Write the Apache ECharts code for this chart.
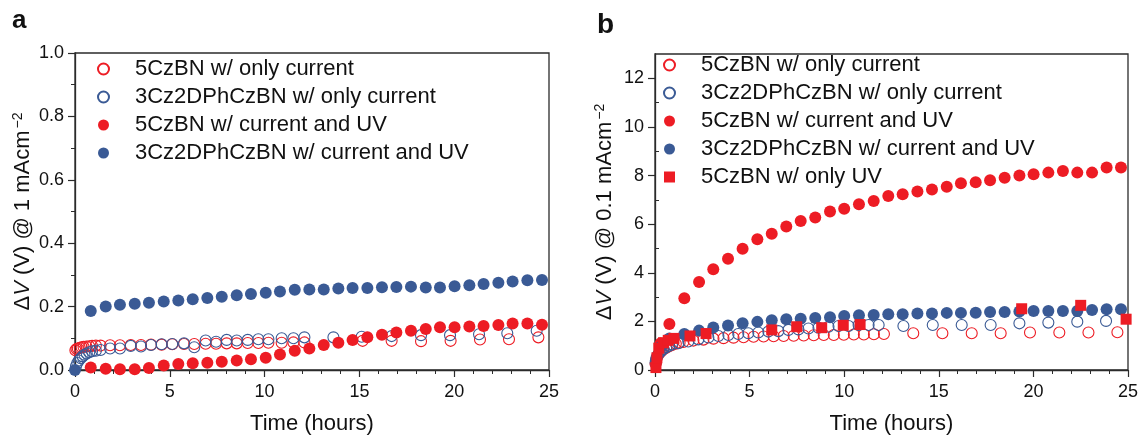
<!DOCTYPE html>
<html>
<head>
<meta charset="utf-8">
<script src="https://cdn.jsdelivr.net/npm/echarts@6/dist/echarts.min.js"></script>
<style>html,body{margin:0;padding:0;background:#fff;}#c{width:1146px;height:441px;}</style>
</head>
<body>
<div id="c"></div>
<script>
// ---------- Panel a data ----------
const A_T_OPEN_RED = [0.02,0.08,0.15,0.25,0.35,0.45,0.6,0.75,0.9,1.1,1.35,1.85,2.37,2.94,3.48,4.01,4.57,5.13,5.75,6.29,6.89,7.44,8.0,8.53,9.11,9.67,10.2,10.9,11.52,12.1,15.17,16.70,18.25,19.81,21.36,22.89,24.44];
const A_RED_OPEN = [0.062,0.066,0.068,0.07,0.072,0.073,0.074,0.075,0.076,0.077,0.077,0.078,0.078,0.079,0.079,0.08,0.08,0.081,0.082,0.082,0.083,0.083,0.084,0.084,0.085,0.085,0.086,0.086,0.087,0.087,0.092,0.092,0.091,0.092,0.096,0.097,0.103];
const A_T_OPEN_BLUE = [0.05,0.12,0.2,0.3,0.4,0.5,0.62,0.75,0.9,1.1,1.35,1.85,2.37,2.94,3.48,4.01,4.57,5.13,5.75,6.29,6.89,7.44,8.0,8.53,9.11,9.67,10.2,10.9,11.52,12.1,13.63,15.12,16.70,18.25,19.78,21.31,22.80,24.35];
const A_BLUE_OPEN = [0.012,0.022,0.03,0.037,0.043,0.048,0.052,0.056,0.059,0.061,0.063,0.068,0.068,0.076,0.074,0.079,0.081,0.082,0.084,0.072,0.093,0.089,0.095,0.093,0.095,0.097,0.097,0.100,0.100,0.103,0.103,0.105,0.107,0.110,0.110,0.113,0.116,0.124];
const A_T_RED_UV = [0.83,1.62,2.37,3.15,3.90,4.68,5.45,6.21,6.98,7.74,8.53,9.28,10.06,10.81,11.59,12.36,13.12,13.89,14.64,15.42,16.19,16.95,17.72,18.50,19.25,20.02,20.80,21.55,22.33,23.08,23.86,24.63];
const A_RED_UV = [0.008,0.004,0.002,0.002,0.006,0.014,0.019,0.021,0.023,0.026,0.030,0.034,0.039,0.049,0.061,0.068,0.079,0.086,0.095,0.103,0.111,0.118,0.124,0.129,0.135,0.135,0.137,0.139,0.142,0.147,0.147,0.143];
const A_T_BLUE_UV = [0,0.83,1.62,2.37,3.15,3.90,4.68,5.45,6.21,6.98,7.74,8.53,9.28,10.06,10.81,11.59,12.36,13.12,13.89,14.64,15.42,16.19,16.95,17.72,18.50,19.25,20.02,20.80,21.55,22.33,23.08,23.86,24.63];
const A_BLUE_UV = [0,0.186,0.200,0.206,0.209,0.212,0.216,0.219,0.223,0.227,0.231,0.236,0.240,0.244,0.248,0.253,0.254,0.254,0.257,0.259,0.259,0.261,0.262,0.263,0.260,0.260,0.264,0.267,0.271,0.275,0.279,0.283,0.284];

// ---------- Panel b data ----------
const B_T_OPEN_RED = [0.03,0.08,0.15,0.25,0.35,0.45,0.6,0.75,0.9,1.1,1.3,1.5,2.03,2.56,3.09,3.62,4.15,4.68,5.21,5.74,6.27,6.80,7.33,7.86,8.39,8.92,9.45,9.98,10.51,11.04,11.57,12.10,13.65,15.19,16.74,18.27,19.82,21.37,22.91,24.44];
const B_RED_OPEN = [0.25,0.45,0.6,0.7,0.78,0.85,0.92,0.98,1.03,1.08,1.12,1.15,1.21,1.25,1.29,1.31,1.33,1.35,1.37,1.38,1.39,1.40,1.41,1.42,1.43,1.44,1.44,1.45,1.46,1.46,1.47,1.48,1.51,1.51,1.51,1.51,1.54,1.54,1.54,1.55];
const B_T_OPEN_BLUE = [0.03,0.08,0.15,0.25,0.35,0.45,0.6,0.75,0.9,1.23,1.76,2.29,2.82,3.35,3.88,4.40,4.93,5.46,5.99,6.52,7.05,7.58,8.11,8.64,9.17,9.70,10.23,10.76,11.29,11.82,13.13,14.68,16.21,17.74,19.26,20.79,22.32,23.84];
const B_BLUE_OPEN = [0.3,0.5,0.62,0.72,0.8,0.87,0.94,1.0,1.05,1.10,1.17,1.26,1.34,1.40,1.44,1.48,1.51,1.54,1.58,1.60,1.65,1.67,1.71,1.74,1.78,1.81,1.81,1.85,1.85,1.85,1.81,1.85,1.85,1.85,1.92,1.95,1.99,2.02];
const B_T_RED_UV = [0.05,0.3,0.76,1.55,2.33,3.08,3.86,4.63,5.41,6.17,6.94,7.70,8.47,9.25,10.0,10.78,11.56,12.33,13.09,13.87,14.64,15.42,16.17,16.95,17.71,18.48,19.26,20.01,20.79,21.56,22.32,23.10,23.87,24.63];
const B_RED_UV = [0.3,1.1,1.89,2.95,3.62,4.14,4.58,4.99,5.38,5.61,5.90,6.13,6.27,6.52,6.63,6.82,6.95,7.16,7.23,7.34,7.43,7.54,7.68,7.72,7.81,7.91,8.00,8.05,8.12,8.19,8.12,8.12,8.33,8.33];
const B_T_BLUE_UV = [0.05,0.3,0.76,1.55,2.33,3.08,3.86,4.63,5.41,6.17,6.94,7.70,8.47,9.25,10.0,10.78,11.56,12.33,13.09,13.87,14.64,15.42,16.17,16.95,17.71,18.48,19.26,20.01,20.79,21.56,22.32,23.10,23.87,24.63];
const B_BLUE_UV = [0.4,0.95,1.30,1.48,1.62,1.75,1.83,1.92,1.98,2.05,2.09,2.11,2.14,2.17,2.22,2.25,2.26,2.29,2.29,2.32,2.32,2.35,2.35,2.36,2.39,2.39,2.41,2.43,2.43,2.43,2.43,2.47,2.50,2.50];
const B_T_ONLY_UV = [0.05,0.1,0.2,0.45,0.7,1.0,1.85,2.7,6.17,7.49,8.81,9.95,10.84,19.38,22.5,24.9];
const B_ONLY_UV = [0.1,0.5,0.9,1.12,1.22,1.3,1.4,1.5,1.65,1.78,1.74,1.84,1.87,2.52,2.66,2.09];

// ---------- labels ----------
const NAMES = ['5CzBN w/ only current','3Cz2DPhCzBN w/ only current','5CzBN w/ current and UV','3Cz2DPhCzBN w/ current and UV','5CzBN w/ only UV'];
const X_TITLE = 'Time (hours)';
const Y_TITLE_A = 'Δ{i|V} (V) @ 1 mAcm{sup|−2}';
const Y_TITLE_B = 'Δ{i|V} (V) @ 0.1 mAcm{sup|−2}';
const Y_TICKS_B = [0,2,4,6,8,10,12];
const Y_MINOR_B = [1,3,5,7,9,11];

const zip = (t, v) => t.map((x, i) => [x, v[i]]);
const RED = '#ed1c24', BLUE = '#3a5a95';
const FONT = 'Liberation Sans, Arial, Helvetica, sans-serif';
const AX = '#2b2b2b';

function xAxis(gi) {
  return {
    type: 'value', gridIndex: gi, min: 0, max: 25, interval: 5,
    name: X_TITLE, nameLocation: 'middle', nameGap: 43,
    nameTextStyle: {fontFamily: FONT, fontSize: 22, color: '#111'},
    axisLine: {show: true, onZero: false, lineStyle: {color: AX, width: 1.3}},
    axisTick: {show: true, inside: false, length: 7, lineStyle: {color: AX, width: 1.2}},
    minorTick: {show: true, splitNumber: 5, length: 4, lineStyle: {color: AX, width: 1}},
    axisLabel: {fontFamily: FONT, fontSize: 18, color: '#111', margin: 13},
    splitLine: {show: false}, minorSplitLine: {show: false}
  };
}
const yName = {
  fontFamily: FONT, fontSize: 22, color: '#111',
  rich: {
    i: {fontFamily: FONT, fontSize: 22, fontStyle: 'italic', color: '#111'},
    sup: {fontFamily: FONT, fontSize: 14, color: '#111', verticalAlign: 'top', padding: [0, 0, 10, 2]}
  }
};

function openCircle(name, color, t, v, xi) {
  return {name, type: 'scatter', xAxisIndex: xi, yAxisIndex: xi === 0 ? 0 : 1,
    symbol: 'circle', symbolSize: 11, data: zip(t, v),
    itemStyle: {color: 'rgba(255,255,255,0)', borderColor: color, borderWidth: 1.1, opacity: 1},
    emphasis: {disabled: true}, animation: false};
}
function filled(name, color, t, v, xi, symbol, size) {
  return {name, type: 'scatter', xAxisIndex: xi, yAxisIndex: xi === 0 ? 0 : 1,
    symbol: symbol || 'circle', symbolSize: size || 12, data: zip(t, v),
    itemStyle: {color: color, opacity: 1}, emphasis: {disabled: true}, animation: false};
}

function legend(left, top, names) {
  return {
    orient: 'vertical', left: left, top: top, itemWidth: 11, itemHeight: 11, itemGap: 6,
    selectedMode: false, data: names.map(n => ({name: n})),
    textStyle: {fontFamily: FONT, fontSize: 22, color: '#111', lineHeight: 22, padding: [0, 0, 0, 21]}
  };
}

const chart = echarts.init(document.getElementById('c'), null, {renderer: 'canvas'});
chart.setOption({
  animation: false,
  backgroundColor: '#fff',
  graphic: [
    {type: 'text', left: 12, top: 8, style: {text: 'a', font: 'bold 26px ' + FONT, fill: '#111'}},
    {type: 'text', left: 597, top: 11, style: {text: 'b', font: 'bold 28px ' + FONT, fill: '#111'}}
  ],
  grid: [
    {left: 75, top: 53, width: 474, height: 317, show: true, borderColor: AX, borderWidth: 1.3, backgroundColor: 'transparent'},
    {left: 655, top: 54, width: 473, height: 316, show: true, borderColor: AX, borderWidth: 1.3, backgroundColor: 'transparent'}
  ],
  xAxis: [xAxis(0), xAxis(1)],
  yAxis: [
    {type: 'value', gridIndex: 0, min: 0, max: 1, interval: 0.2,
     name: Y_TITLE_A, nameLocation: 'middle', nameGap: 40, nameTextStyle: yName,
     axisLine: {show: true, onZero: false, lineStyle: {color: AX, width: 1.3}},
     axisTick: {show: true, length: 7, lineStyle: {color: AX, width: 1.2}},
     minorTick: {show: true, splitNumber: 2, length: 4, lineStyle: {color: AX, width: 1}},
     axisLabel: {fontFamily: FONT, fontSize: 18, color: '#111', margin: 11, formatter: v => v.toFixed(1)},
     splitLine: {show: false}, minorSplitLine: {show: false}},
    {type: 'value', gridIndex: 1, min: 0, max: 13, interval: 2,
     name: Y_TITLE_B, nameLocation: 'middle', nameGap: 38, nameTextStyle: yName,
     axisLine: {show: true, onZero: false, lineStyle: {color: AX, width: 1.3}},
     axisTick: {show: true, length: 7, customValues: Y_TICKS_B, lineStyle: {color: AX, width: 1.2}},
     axisLabel: {fontFamily: FONT, fontSize: 18, color: '#111', margin: 11, customValues: Y_TICKS_B},
     splitLine: {show: false}},
    {type: 'value', gridIndex: 1, min: 0, max: 13, interval: 1,
     axisLine: {show: false},
     axisTick: {show: true, length: 4, customValues: Y_MINOR_B, lineStyle: {color: AX, width: 1}},
     axisLabel: {show: false}, splitLine: {show: false}}
  ],
  legend: [
    legend(92, 53, NAMES.slice(0, 4)),
    legend(658, 49, NAMES)
  ],
  series: [
    openCircle(NAMES[0], RED, A_T_OPEN_RED, A_RED_OPEN, 0),
    openCircle(NAMES[1], BLUE, A_T_OPEN_BLUE, A_BLUE_OPEN, 0),
    filled(NAMES[2], RED, A_T_RED_UV, A_RED_UV, 0),
    filled(NAMES[3], BLUE, A_T_BLUE_UV, A_BLUE_UV, 0),
    openCircle(NAMES[0], RED, B_T_OPEN_RED, B_RED_OPEN, 1),
    openCircle(NAMES[1], BLUE, B_T_OPEN_BLUE, B_BLUE_OPEN, 1),
    filled(NAMES[2], RED, B_T_RED_UV, B_RED_UV, 1),
    filled(NAMES[3], BLUE, B_T_BLUE_UV, B_BLUE_UV, 1),
    filled(NAMES[4], RED, B_T_ONLY_UV, B_ONLY_UV, 1, 'rect', 11)
  ]
});
</script>
</body>
</html>
